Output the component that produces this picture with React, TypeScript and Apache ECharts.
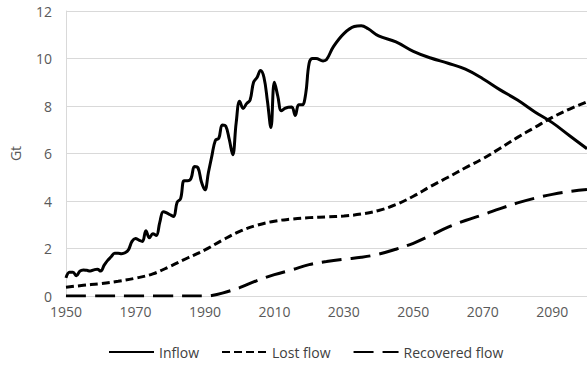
import React, { useEffect, useRef } from "react";
import * as echarts from "echarts";

const inflowYears = [
  1950, 1951, 1952, 1953, 1954, 1955, 1956, 1957, 1958, 1959, 1960, 1961, 1962, 1963, 1964, 1965,
  1966, 1967, 1968, 1969, 1970, 1971, 1972, 1973, 1974, 1975, 1976, 1977, 1978, 1979, 1980, 1981,
  1982, 1983, 1984, 1985, 1986, 1987, 1988, 1989, 1990, 1991, 1992, 1993, 1994, 1995, 1996, 1997,
  1998, 1999, 2000, 2001, 2002, 2003, 2004, 2005, 2006, 2007, 2008, 2009, 2010, 2011, 2012, 2013,
  2014, 2015, 2016, 2017, 2018, 2019, 2020, 2021, 2022, 2024, 2025, 2027, 2030, 2033, 2035, 2037,
  2040, 2045, 2050, 2055, 2060, 2065, 2070, 2075, 2080, 2085, 2090, 2095, 2100,
];
const inflowValues = [
  0.76, 1.0, 1.0, 0.85, 1.05, 1.1, 1.08, 1.05, 1.1, 1.13, 1.05, 1.3, 1.5, 1.65, 1.8, 1.8,
  1.78, 1.82, 1.95, 2.3, 2.42, 2.35, 2.3, 2.75, 2.45, 2.62, 2.55, 3.1, 3.55, 3.5, 3.42, 3.35,
  3.95, 4.1, 4.85, 4.85, 4.95, 5.45, 5.4, 4.8, 4.47, 5.2, 5.9, 6.55, 6.65, 7.2, 7.15, 6.6,
  5.95, 7.3, 8.2, 7.9, 8.1, 8.25, 9.0, 9.2, 9.5, 9.2, 8.2, 7.1, 9.0, 8.4, 7.8, 7.9,
  7.95, 7.96, 7.6, 8.05, 8.05, 8.5, 9.8, 10.0, 10.0, 9.9, 9.95, 10.5, 11.05, 11.35, 11.38, 11.25,
  10.95, 10.7, 10.3, 10.02, 9.8, 9.55, 9.15, 8.68, 8.25, 7.75, 7.3, 6.75, 6.2,
];

const lostYears = [
  1950, 1955, 1960, 1965, 1970, 1975, 1980, 1985, 1990, 1995, 2000, 2005, 2010, 2015, 2020, 2025,
  2030, 2035, 2040, 2045, 2050, 2055, 2060, 2065, 2070, 2075, 2080, 2085, 2090, 2095, 2100,
];
const lostValues = [
  0.37, 0.45, 0.52, 0.62, 0.75, 0.93, 1.25, 1.6, 1.94, 2.35, 2.72, 2.98, 3.15, 3.24, 3.3, 3.33,
  3.37, 3.45, 3.6, 3.85, 4.2, 4.62, 5.0, 5.4, 5.78, 6.22, 6.68, 7.1, 7.52, 7.87, 8.18,
];

const recoveredYears = [
  1950, 1960, 1970, 1980, 1990, 1992, 1995, 2000, 2005, 2010, 2015, 2020, 2025, 2030, 2035, 2040,
  2045, 2050, 2055, 2060, 2065, 2070, 2075, 2080, 2085, 2090, 2095, 2100,
];
const recoveredValues = [
  0, 0, 0, 0, 0, 0.02, 0.12, 0.35, 0.65, 0.9, 1.1, 1.32, 1.45, 1.55, 1.63, 1.76,
  1.97, 2.22, 2.55, 2.9, 3.18, 3.42, 3.68, 3.92, 4.12, 4.28, 4.4, 4.48,
];

const seriesNames = ["Inflow", "Lost flow", "Recovered flow"];
const yAxisName = "Gt";

const pair = (xs: number[], ys: number[]) => xs.map((x, i) => [x, ys[i]]);

export default function App() {
  const ref = useRef<HTMLDivElement>(null);
  useEffect(() => {
    if (!ref.current) return;
    const chart = echarts.init(ref.current, null, { renderer: "svg" });
    const font = "'Open Sans', 'Liberation Sans', sans-serif";
    chart.setOption({
      animation: false,
      textStyle: { fontFamily: font },
      grid: { left: 60, right: 0, top: 11, bottom: 71 },
      legend: {
        left: 103,
        bottom: 3,
        itemWidth: 45,
        itemHeight: 10,
        itemGap: 22,
        itemStyle: { opacity: 0 },
        textStyle: { fontSize: 14, color: "#404040", fontFamily: font },
        data: seriesNames,
      },
      xAxis: {
        type: "value",
        min: 1950,
        max: 2100,
        interval: 20,
        axisLine: { show: true, lineStyle: { color: "#d9d9d9", width: 1 } },
        axisTick: { show: false },
        splitLine: { show: false },
        axisLabel: {
          showMaxLabel: false,
          color: "#595959",
          fontSize: 14,
          margin: 8,
          fontFamily: font,
          formatter: (v: number) => String(v),
        },
      },
      yAxis: {
        type: "value",
        min: 0,
        max: 12,
        interval: 2,
        name: yAxisName,
        nameLocation: "middle",
        nameGap: 44,
        nameRotate: 90,
        nameTextStyle: { color: "#595959", fontSize: 14, fontFamily: font },
        axisLine: { show: true, lineStyle: { color: "#d9d9d9", width: 1 } },
        axisTick: { show: false },
        splitLine: { show: true, lineStyle: { color: "#d9d9d9", width: 1 } },
        axisLabel: { color: "#595959", fontSize: 14, margin: 14, fontFamily: font },
      },
      series: [
        {
          name: seriesNames[0],
          type: "line",
          data: pair(inflowYears, inflowValues),
          smooth: 0.4,
          showSymbol: false,
          symbol: "none",
          lineStyle: { color: "#000", width: 3 },
          itemStyle: { color: "#000" },
        },
        {
          name: seriesNames[1],
          type: "line",
          data: pair(lostYears, lostValues),
          smooth: 0.4,
          showSymbol: false,
          symbol: "none",
          lineStyle: { color: "#000", width: 3, type: [8, 4] },
          itemStyle: { color: "#000" },
        },
        {
          name: seriesNames[2],
          type: "line",
          data: pair(recoveredYears, recoveredValues),
          smooth: 0.4,
          showSymbol: false,
          symbol: "none",
          lineStyle: { color: "#000", width: 3, type: [20, 9] },
          itemStyle: { color: "#000" },
        },
      ],
    });
    return () => chart.dispose();
  }, []);
  return (
    <div
      ref={ref}
      style={{ position: "absolute", left: 0, top: 0, width: 587, height: 367 }}
    />
  );
}
